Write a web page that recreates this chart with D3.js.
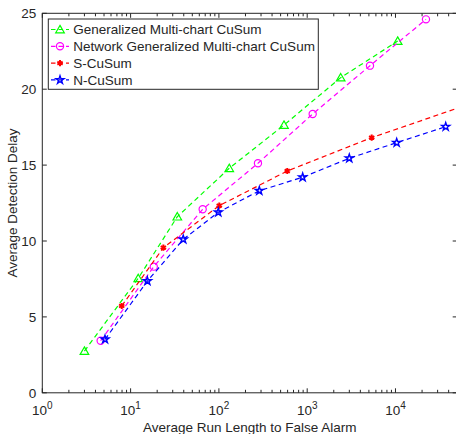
<!DOCTYPE html>
<html><head><meta charset="utf-8">
<script src="https://cdnjs.cloudflare.com/ajax/libs/d3/7.8.5/d3.min.js"></script>
<style>body{margin:0;background:#fff}svg{display:block}text{font-family:"Liberation Sans",Arial,sans-serif;fill:#262626}</style>
</head><body>
<svg id="c" width="456" height="434"></svg>
<script>
const seriesNames = ["Generalized Multi-chart CuSum","Network Generalized Multi-chart CuSum","S-CuSum","N-CuSum"];
const gmcARL = [3, 12.2, 33.8, 131, 546, 2395, 10590];
const gmcADD = [2.75, 7.54, 11.6, 14.79, 17.64, 20.76, 23.17];
const ngmcARL = [4.58, 18.3, 65.5, 277, 1154, 5143, 22150];
const ngmcADD = [3.43, 8.31, 12.09, 15.12, 18.37, 21.55, 24.6];
const scARL = [7.93, 23.5, 101, 595, 5375, 80000];
const scADD = [5.72, 9.56, 12.33, 14.61, 16.81, 19.15];
const ncARL = [5.13, 15.5, 39.5, 98.5, 287, 889, 2998, 10320, 37050];
const ncADD = [3.52, 7.36, 10.11, 11.89, 13.31, 14.2, 15.45, 16.48, 17.53];
const yTicks = [0,5,10,15,20,25];
const xDecades = [0,1,2,3,4];

const svg = d3.select("#c");
const L = 42.3, R = 457.2, T = 13.3, B = 392.8;
const FS = 13.5;
const x = d3.scaleLog().domain([1, 5e4]).range([L, R]);
const y = d3.scaleLinear().domain([0, 25]).range([B, T]);

svg.append("clipPath").attr("id","clip").append("rect")
  .attr("x",L).attr("y",T).attr("width",R-L).attr("height",B-T);

const axisCol = "#262626";
svg.append("rect").attr("x",L).attr("y",T).attr("width",R-L).attr("height",B-T)
  .attr("fill","none").attr("stroke",axisCol).attr("stroke-width",1);

const gy = svg.append("g");
yTicks.forEach(v=>{
  const py = y(v);
  gy.append("line").attr("x1",L).attr("x2",L+4.5).attr("y1",py).attr("y2",py).attr("stroke",axisCol);
  gy.append("line").attr("x1",R).attr("x2",R-4.5).attr("y1",py).attr("y2",py).attr("stroke",axisCol);
  gy.append("text").attr("x",L-6).attr("y",py).attr("dy","0.36em").attr("text-anchor","end")
    .attr("font-size",FS).text(v);
});
const gx = svg.append("g");
xDecades.forEach(d=>{
  const px = x(Math.pow(10,d));
  gx.append("line").attr("x1",px).attr("x2",px).attr("y1",B).attr("y2",B-4.5).attr("stroke",axisCol);
  gx.append("line").attr("x1",px).attr("x2",px).attr("y1",T).attr("y2",T+4.5).attr("stroke",axisCol);
  const t = gx.append("text").attr("x",px).attr("y",B+22).attr("text-anchor","middle").attr("font-size",FS);
  t.append("tspan").text("10");
  t.append("tspan").attr("font-size",10).attr("dy",-6).text(d);
  for (let m=2;m<=9;m++){
    const v = m*Math.pow(10,d);
    if (v > 5e4) break;
    const mx = x(v);
    gx.append("line").attr("x1",mx).attr("x2",mx).attr("y1",B).attr("y2",B-3).attr("stroke",axisCol);
    gx.append("line").attr("x1",mx).attr("x2",mx).attr("y1",T).attr("y2",T+3).attr("stroke",axisCol);
  }
});
svg.append("text").attr("x",(L+R)/2).attr("y",432).attr("text-anchor","middle").attr("font-size",FS)
  .text("Average Run Length to False Alarm");
svg.append("text").attr("transform",`translate(17,${(T+B)/2}) rotate(-90)`).attr("text-anchor","middle")
  .attr("font-size",FS).text("Average Detection Delay");

const series = [
  {name:seriesNames[0], xs:gmcARL, ys:gmcADD, color:"#00ff00", sym:"tri"},
  {name:seriesNames[1], xs:ngmcARL, ys:ngmcADD, color:"#ff00ff", sym:"circ"},
  {name:seriesNames[2], xs:scARL, ys:scADD, color:"#ff0000", sym:"ast"},
  {name:seriesNames[3], xs:ncARL, ys:ncADD, color:"#0000ff", sym:"star"}
];
function drawMarker(g, sym, color, cx, cy){
  if (sym==="tri"){
    g.append("path").attr("d", d3.symbol(d3.symbolTriangle, 32)()).attr("transform",`translate(${cx},${cy+0.8})`)
      .attr("fill","none").attr("stroke",color).attr("stroke-width",1.2);
  } else if (sym==="circ"){
    g.append("circle").attr("cx",cx).attr("cy",cy).attr("r",3.6).attr("fill","none").attr("stroke",color).attr("stroke-width",1.2);
  } else if (sym==="ast"){
    g.append("path").attr("d", d3.symbol(d3.symbolAsterisk, 26)()).attr("transform",`translate(${cx},${cy})`)
      .attr("fill","none").attr("stroke",color).attr("stroke-width",2);
  } else {
    g.append("path").attr("d", d3.symbol(d3.symbolStar, 20)()).attr("transform",`translate(${cx},${cy})`)
      .attr("fill","none").attr("stroke",color).attr("stroke-width",1.4);
  }
}
const plot = svg.append("g").attr("clip-path","url(#clip)");
const line = d3.line().x(d=>x(d[0])).y(d=>y(d[1]));
series.forEach(s=>{
  const pts = s.xs.map((v,i)=>[v,s.ys[i]]);
  plot.append("path").attr("d",line(pts)).attr("fill","none").attr("stroke",s.color)
    .attr("stroke-width",1.2).attr("stroke-dasharray","5,3.5");
  pts.forEach(p=>drawMarker(plot, s.sym, s.color, x(p[0]), y(p[1])));
});

const lg = svg.append("g");
lg.append("rect").attr("x",48.3).attr("y",19).attr("width",270).attr("height",70.3)
  .attr("fill","#fff").attr("stroke",axisCol).attr("stroke-width",1);
series.forEach((s,i)=>{
  const cy = 29.5 + i*16.8;
  lg.append("line").attr("x1",51).attr("x2",69).attr("y1",cy).attr("y2",cy).attr("stroke",s.color)
    .attr("stroke-width",1.2).attr("stroke-dasharray","4.5,3");
  drawMarker(lg, s.sym, s.color, 60, cy);
  lg.append("text").attr("x",73.3).attr("y",cy).attr("dy","0.36em").attr("font-size",FS).text(s.name);
});
</script>
</body></html>
